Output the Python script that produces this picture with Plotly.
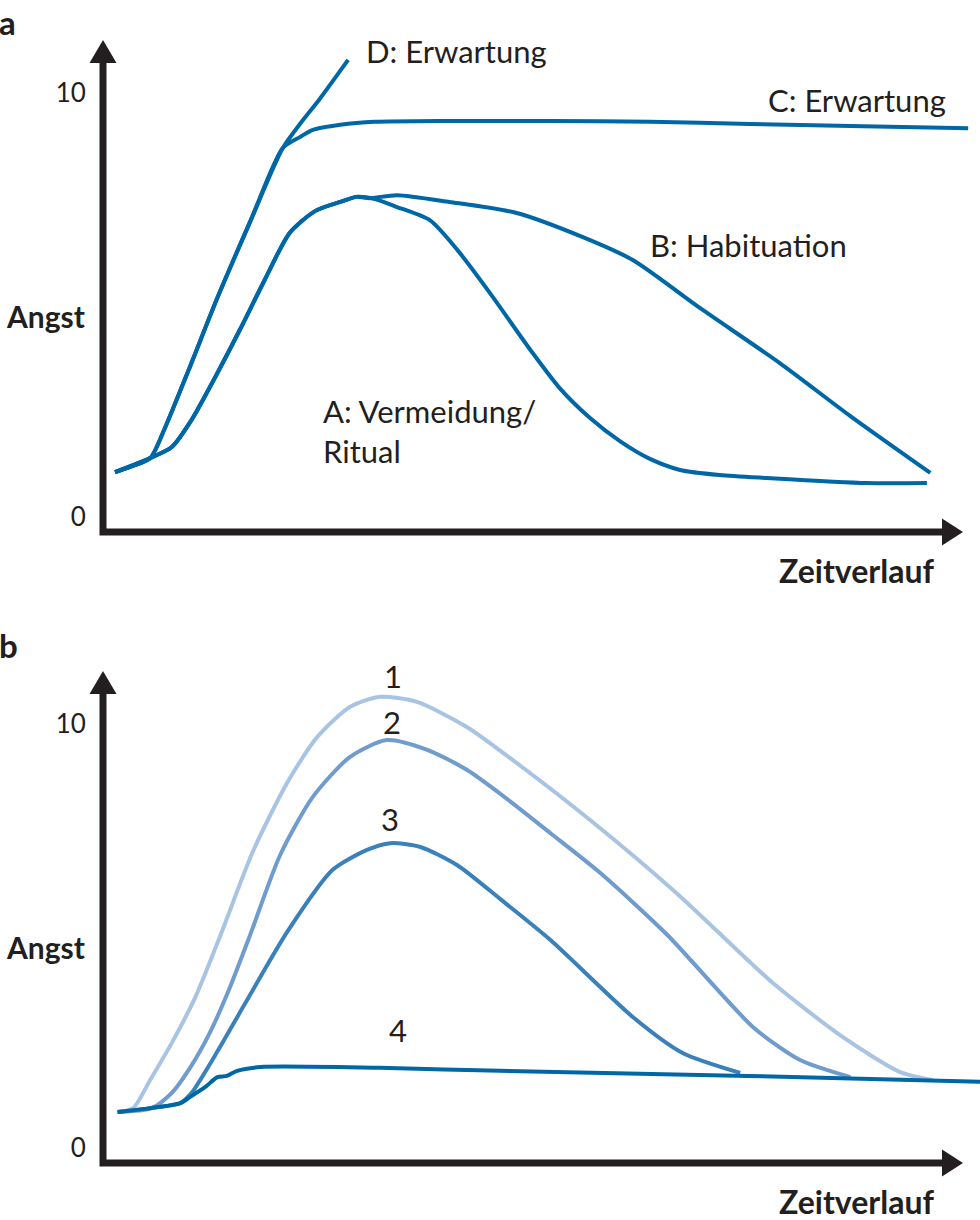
import plotly.graph_objects as go

# ---------- panel a: Angst over time, four courses ----------
a_d_x = [0.14, 0.34, 0.55, 0.72, 1.01, 1.33, 1.71, 2.09, 2.29, 2.52, 2.85]
a_d_y = [1.06, 1.20, 1.39, 2.10, 3.54, 5.17, 6.96, 8.70, 9.27, 9.86, 10.78]

a_c_x = [0.14, 0.34, 0.55, 0.72, 1.01, 1.33, 1.71, 2.09, 2.29, 2.44, 2.76, 3.16,
         4.03, 5.20, 6.36, 7.52, 8.69, 10.06]
a_c_y = [1.06, 1.20, 1.39, 2.10, 3.54, 5.17, 6.96, 8.70, 8.96, 9.13, 9.25, 9.32,
         9.34, 9.34, 9.32, 9.27, 9.22, 9.17]

a_a_x = [0.14, 0.55, 0.80, 1.03, 1.30, 1.59, 1.88, 2.17, 2.47, 2.76, 2.95, 3.16, 3.42,
         3.80, 4.12, 4.50, 4.97, 5.31, 5.66, 6.01, 6.36, 6.71, 7.17, 7.72, 8.88, 9.58]
a_a_y = [1.06, 1.39, 1.65, 2.29, 3.28, 4.41, 5.59, 6.70, 7.22, 7.43, 7.55, 7.50, 7.31,
         7.00, 6.30, 5.28, 3.94, 3.04, 2.34, 1.79, 1.37, 1.11, 0.99, 0.92, 0.80, 0.80]

a_b_x = [0.14, 0.55, 0.80, 1.03, 1.30, 1.59, 1.88, 2.17, 2.47, 2.76, 2.95, 3.10, 3.42,
         4.03, 4.81, 5.58, 6.16, 6.94, 7.87, 8.69, 9.62]
a_b_y = [1.06, 1.39, 1.65, 2.29, 3.28, 4.41, 5.59, 6.70, 7.22, 7.43, 7.55, 7.52, 7.59,
         7.43, 7.17, 6.60, 6.06, 4.93, 3.63, 2.38, 1.04]

# ---------- panel b: repeated exposures 1-4 ----------
b1_x = [0.17, 0.35, 0.55, 0.80, 1.07, 1.38, 1.74, 2.14, 2.49, 2.87, 3.22, 3.65, 4.23,
        4.81, 5.66, 6.67, 7.79, 8.60, 9.27, 9.65]
b1_y = [0.85, 0.94, 1.61, 2.48, 3.54, 5.09, 6.98, 8.61, 9.69, 10.40, 10.64, 10.52, 9.93,
        9.08, 7.74, 6.01, 3.89, 2.62, 1.79, 1.60]

b2_x = [0.17, 0.57, 0.80, 1.03, 1.24, 1.45, 1.71, 2.06, 2.44, 2.87, 3.30, 3.77, 4.23,
        4.70, 5.20, 5.78, 6.56, 7.56, 8.10, 8.69]
b2_y = [0.85, 0.94, 1.30, 1.95, 2.71, 3.66, 5.02, 6.91, 8.28, 9.22, 9.62, 9.39, 8.92,
        8.23, 7.43, 6.49, 5.03, 2.85, 2.08, 1.67]

b3_x = [0.17, 0.55, 0.90, 1.03, 1.34, 1.65, 2.14, 2.67, 3.07, 3.34, 3.69, 4.12, 4.62,
        5.20, 6.16, 6.74, 7.41]
b3_y = [0.85, 0.94, 1.06, 1.30, 2.31, 3.40, 5.09, 6.56, 7.03, 7.19, 7.10, 6.67, 5.87,
        4.91, 3.09, 2.24, 1.77]

b4_x = [0.17, 0.55, 0.90, 1.01, 1.19, 1.33, 1.44, 1.56, 1.83, 3.22, 4.62, 7.49, 10.20]
b4_y = [0.85, 0.94, 1.06, 1.20, 1.44, 1.67, 1.70, 1.82, 1.91, 1.89, 1.82, 1.70, 1.56]

y_tick_vals = [0, 10]
y_tick_text = ["0", "10"]

DARK = "#231f20"
BLUE = "#0067a7"
B_COLORS = ["#a8c4e2", "#6f9bcd", "#3a80ba", BLUE]

FONT = "Lato"
W, H = 980, 1220

# drawing scale: 86 px per time unit, 42.4 px per Angst unit
PX_X = 86.0
PX_Y = 42.4
AXIS_X = 103          # pixel column of the Angst axis
ZERO_A, ZERO_B = 517, 1148   # pixel row of Angst = 0 in each panel

X_RANGE = [-43 / PX_X, (W - AXIS_X) / PX_X]
Y_RANGE = [-43 / PX_Y, 492 / PX_Y]

fig = go.Figure()


def add_line(x, y, color, xa, ya):
    fig.add_trace(go.Scatter(
        x=x, y=y, mode="lines", xaxis=xa, yaxis=ya,
        line=dict(color=color, width=4, shape="spline", smoothing=0.7),
        hoverinfo="skip", showlegend=False))


# panel a
add_line(a_a_x, a_a_y, BLUE, "x", "y")
add_line(a_b_x, a_b_y, BLUE, "x", "y")
add_line(a_c_x, a_c_y, BLUE, "x", "y")
add_line(a_d_x, a_d_y, BLUE, "x", "y")

# panel b (lightest first, 4 on top)
for xs, ys, col in zip([b1_x, b2_x, b3_x, b4_x], [b1_y, b2_y, b3_y, b4_y], B_COLORS):
    add_line(xs, ys, col, "x2", "y2")

# axes with arrow heads, in data units
ybot = -15 / PX_Y
ytip = 477 / PX_Y
ybase = ytip - 23 / PX_Y
xtip = 860 / PX_X
xbase = xtip - 21 / PX_X
hw_x = 13.5 / PX_X
hw_y = 13.5 / PX_Y

shapes = []
for xr, yr in [("x", "y"), ("x2", "y2")]:
    shapes.append(dict(
        type="path", xref=xr, yref=yr,
        path=f"M 0,{ybase} L 0,{ybot} L {xbase},{ybot}",
        line=dict(color=DARK, width=7)))
    shapes.append(dict(
        type="path", xref=xr, yref=yr,
        path=f"M {-hw_x},{ybase} L 0,{ytip} L {hw_x},{ybase} Z",
        fillcolor=DARK, line=dict(width=0)))
    shapes.append(dict(
        type="path", xref=xr, yref=yr,
        path=f"M {xbase},{ybot - hw_y} L {xtip},{ybot} L {xbase},{ybot + hw_y} Z",
        fillcolor=DARK, line=dict(width=0)))

annotations = []


def label(text, x, y, xr, yr, xanchor="left", size=31, bold=False):
    annotations.append(dict(
        text=f"<b>{text}</b>" if bold else text, x=x, y=y, xref=xr, yref=yr,
        xanchor=xanchor, yanchor="middle", showarrow=False, align="left",
        font=dict(family=FONT, size=size, color=DARK)))


label("D: Erwartung", 3.04, 11.0, "x", "y")
label("C: Erwartung", 9.82, 9.84, "x", "y", xanchor="right")
label("B: Habituation", 6.34, 6.42, "x", "y")
label("A: Vermeidung/<br>Ritual", 2.54, 2.03, "x", "y")
label("1", 3.37, 11.13, "x2", "y2", xanchor="center")
label("2", 3.36, 10.05, "x2", "y2", xanchor="center")
label("3", 3.34, 7.76, "x2", "y2", xanchor="center")
label("4", 3.43, 2.78, "x2", "y2", xanchor="center")

# texts outside the plotted range go in paper coordinates
for zero in (ZERO_A, ZERO_B):
    label("Angst", 4 / W, 1 - (zero - 201) / H, "paper", "paper", size=30, bold=True)
    label("Zeitverlauf", 936 / W, 1 - (zero + 53) / H, "paper", "paper",
          xanchor="right", size=32, bold=True)

label("a", -3 / W, 1 - 22 / H, "paper", "paper", size=33, bold=True)
label("b", -3 / W, 1 - 645 / H, "paper", "paper", size=33, bold=True)

xaxis_cfg = dict(range=X_RANGE, domain=[(AXIS_X - 43) / W, 1.0], showgrid=False,
                 zeroline=False, showline=False, showticklabels=False, ticks="")
yaxis_cfg = dict(range=Y_RANGE, showgrid=False, zeroline=False, showline=False,
                 anchor="free", position=AXIS_X / W,
                 tickvals=y_tick_vals, ticktext=y_tick_text, ticks="outside",
                 ticklen=12, tickcolor="rgba(0,0,0,0)",
                 tickfont=dict(family=FONT, size=26, color=DARK))


def ydomain(zero):
    bottom = zero + 43
    top = zero - 492
    return [1 - bottom / H, 1 - top / H]


fig.update_layout(
    width=W, height=H,
    margin=dict(l=0, r=0, t=0, b=0),
    paper_bgcolor="white", plot_bgcolor="white",
    font=dict(family=FONT, color=DARK),
    xaxis=dict(xaxis_cfg, anchor="y"),
    yaxis=dict(yaxis_cfg, domain=ydomain(ZERO_A)),
    xaxis2=dict(xaxis_cfg, anchor="y2"),
    yaxis2=dict(yaxis_cfg, domain=ydomain(ZERO_B)),
    shapes=shapes,
    annotations=annotations,
)

fig.write_html("out.html", config={"displayModeBar": False},
               post_script="document.body.style.margin = '0';")
